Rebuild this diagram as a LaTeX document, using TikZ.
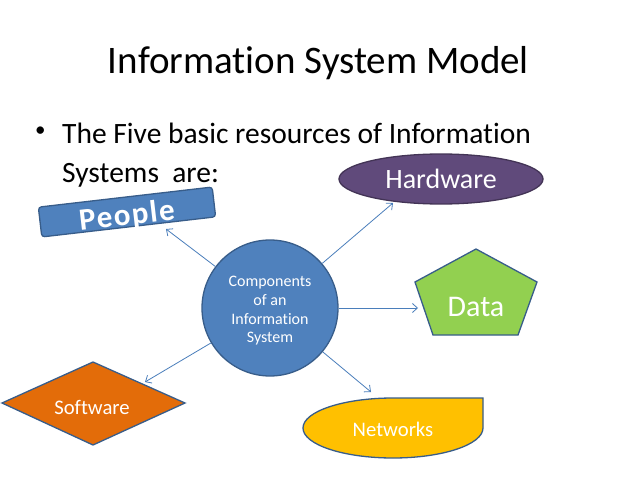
\documentclass[tikz,border=0pt]{standalone}
\usepackage{fontspec}
\setmainfont{Carlito}[Ligatures=NoCommon]
\newfontfamily\peoplefont{Carlito}[LetterSpace=5,Ligatures=NoCommon]
\usetikzlibrary{arrows.meta,shapes.geometric}
\definecolor{boxblue}{HTML}{4F81BD}
\definecolor{lineblue}{HTML}{385D8A}
\definecolor{arrblue}{HTML}{4A7EBB}
\definecolor{hwpurple}{HTML}{604A7B}
\definecolor{datagreen}{HTML}{92D050}
\definecolor{netyellow}{HTML}{FFC000}
\definecolor{softorange}{HTML}{E36C09}
\tikzset{
  shapeline/.style={draw=lineblue, line width=1.3pt},
  arr/.style={draw=arrblue, line width=0.8pt, -{Straight Barb[length=5pt,width=9pt]}},
  whitetext/.style={text=white, inner sep=0pt},
}
\begin{document}
\begin{tikzpicture}[x=1pt,y=-1pt]
\useasboundingbox (0,0) rectangle (638,479);
\fill[white] (0,0) rectangle (638,479);
% title and bullet text
\node[anchor=base, font=\fontsize{39}{46}\selectfont, inner sep=0pt] (title) at (318.5,73) {Information System Model};
\node[anchor=base west, font=\fontsize{21}{25}\selectfont, inner sep=0pt] (bullet) at (35,136) {•};
\node[anchor=base west, font=\fontsize{29.5}{35}\selectfont, inner sep=0pt] (line1) at (62,143) {The Five basic resources of Information};
\node[anchor=base west, font=\fontsize{29.5}{35}\selectfont, inner sep=0pt] (line2) at (62,182) {Systems\ \ are:};
% centre circle
\node[circle, fill=boxblue, shapeline, minimum size=136pt] (c) at (270,308) {};
\node[align=center, text=white, font=\fontsize{16}{18.7}\selectfont, inner sep=0pt] (ctext)
      at ([shift={(0,3)}]c.center) {Components\\of an\\Information\\System};
% People
\node[rectangle, rounded corners=3pt, rotate=6.6, fill=boxblue, shapeline,
      minimum width=175pt, minimum height=30pt] (people) at (127,212) {};
\node[whitetext, rotate=6.6, font=\fontsize{31}{36}\peoplefont\bfseries] (peopletext)
      at ([shift={(0,5)}]people.center) {People};
% Hardware
\node[ellipse, fill=hwpurple, draw=hwpurple!70!black, line width=1.3pt, minimum width=204pt, minimum height=50pt,
      text=white, font=\fontsize{28}{33}\selectfont, inner sep=0pt] (hw) at (441,179) {Hardware};
% Data
\draw[shapeline, fill=datagreen] (476,249) -- (537,282) -- (518,335) -- (433,335) -- (415,282) -- cycle;
\node[whitetext, font=\fontsize{30}{36}\selectfont] (data) at (476,307) {Data};
% Networks
\draw[shapeline, fill=netyellow] (483,398) -- (393,398)
      arc[start angle=90, end angle=360, x radius=90pt, y radius=30pt] -- cycle;
\node[whitetext, font=\fontsize{20.7}{25}\selectfont] (net) at (393,429) {Networks};
% Software
\draw[shapeline, fill=softorange] (2,403) -- (93,362) -- (185,403) -- (93,445) -- cycle;
\node[whitetext, font=\fontsize{20.7}{25}\selectfont] (soft) at (92,407) {Software};
% arrow tips
\coordinate (tpeople) at (166,229);
\coordinate (thw) at (393,203);
\coordinate (tdata) at (418,308);
\coordinate (tnet) at (371,392);
\coordinate (tsoft) at (145,382);
\draw[arr] (c) -- (tpeople);
\draw[arr] (c) -- (thw);
\draw[arr] (c) -- (tdata);
\draw[arr] (c) -- (tnet);
\draw[arr] (c) -- (tsoft);
\end{tikzpicture}
\end{document}
